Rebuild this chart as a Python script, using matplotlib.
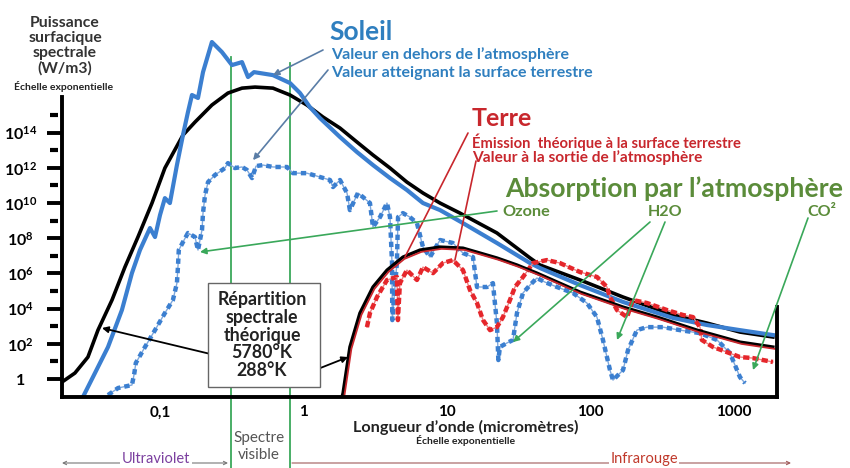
import numpy as np
import matplotlib.pyplot as plt
from matplotlib import transforms
from matplotlib.patches import Rectangle

plt.rcParams['font.family'] = ['Lato', 'DejaVu Sans']
plt.rcParams['mathtext.fontset'] = 'custom'
plt.rcParams['mathtext.rm'] = 'Lato'
plt.rcParams['mathtext.bf'] = 'Lato:bold'

# valeurs : log10(longueur d'onde en µm), log10(puissance)
# Soleil, corps noir 5780 K
sun_bb_lx = [-1.685, -1.595, -1.504, -1.434, -1.336, -1.246, -1.155, -1.057, -0.967, -0.841,
             -0.757, -0.639, -0.527, -0.429, -0.338, -0.213, -0.094, 0.024, 0.136, 0.255,
             0.373, 0.485, 0.604, 0.722, 0.834, 0.953, 1.092, 1.350, 1.581, 1.650,
             1.930, 2.230, 2.579, 2.816, 3.046, 3.276]
sun_bb_ly = [-0.17, 0.34, 1.25, 2.78, 4.49, 6.36, 8.07, 10.00, 11.99, 13.86,
             14.60, 15.57, 16.25, 16.53, 16.59, 16.53, 16.14, 15.57, 14.89, 14.26,
             13.47, 12.73, 11.99, 11.19, 10.57, 10.00, 9.43, 8.30, 6.88, 6.48,
             5.63, 4.66, 3.64, 3.18, 2.67, 2.39]

# Soleil, valeur en dehors de l'atmosphère
sun_top_lx = [-1.539, -1.455, -1.364, -1.267, -1.197, -1.141, -1.071, -1.036, -1.001, -0.967,
              -0.932, -0.883, -0.841, -0.806, -0.778, -0.736, -0.701, -0.639, -0.569, -0.499,
              -0.429, -0.387, -0.345, -0.213, -0.094, -0.024, 0.045, 0.115, 0.255, 0.373,
              0.485, 0.604, 0.722, 0.834, 0.953, 1.113, 1.350, 1.581, 1.650, 1.930,
              2.230, 2.579, 2.816, 3.046, 3.276]
sun_top_ly = [-1.02, 0.34, 1.82, 3.92, 6.02, 7.33, 8.58, 8.07, 9.32, 10.28,
              10.00, 12.16, 13.86, 15.17, 16.14, 15.97, 17.44, 19.15, 18.58, 17.84,
              18.01, 17.16, 17.44, 17.27, 16.82, 16.25, 15.45, 14.83, 13.75, 12.90,
              12.16, 11.42, 10.74, 10.00, 9.60, 8.86, 7.73, 6.59, 6.31, 5.34,
              4.38, 3.47, 3.07, 2.78, 2.50]

# Soleil, valeur atteignant la surface terrestre
sun_ground_lx = [-1.364, -1.294, -1.197, -1.18, -1.17, -1.106, -1.036, -0.967, -0.911, -0.883,
                 -0.876, -0.87, -0.841, -0.806, -0.757, -0.736, -0.708, -0.701, -0.687, -0.666,
                 -0.618, -0.548, -0.527, -0.478, -0.429, -0.394, -0.359, -0.331, -0.283, -0.213,
                 -0.115, -0.073, 0.024, 0.115, 0.185, 0.206, 0.255, 0.304, 0.324, 0.380,
                 0.415, 0.464, 0.485, 0.534, 0.583, 0.604, 0.618, 0.62, 0.652, 0.66,
                 0.694, 0.743, 0.792, 0.834, 0.883, 0.953, 1.043, 1.113, 1.183, 1.211,
                 1.281, 1.322, 1.350, 1.36, 1.371, 1.420, 1.462, 1.490, 1.532, 1.581,
                 1.629, 1.685, 1.769, 1.881, 1.978, 2.048, 2.090, 2.139, 2.160, 2.230,
                 2.265, 2.327, 2.397, 2.509, 2.627, 2.767, 2.886, 2.976, 3.046, 3.081]
sun_ground_ly = [-0.91, -0.51, -0.34, 0.34, 0.91, 1.82, 2.78, 3.75, 4.49, 5.45,
                 6.36, 7.33, 7.78, 8.30, 8.07, 7.33, 8.47, 9.43, 10.45, 11.19,
                 11.59, 11.99, 12.27, 11.99, 12.05, 11.88, 11.42, 12.10, 12.16, 12.05,
                 12.05, 11.70, 11.70, 11.48, 11.31, 10.91, 11.31, 10.57, 9.60, 10.57,
                 10.34, 10.00, 8.64, 9.20, 10.00, 9.20, 6.59, 3.35, 6.59, 9.20,
                 9.43, 9.20, 8.86, 7.50, 6.93, 7.90, 7.73, 7.16, 6.93, 5.23,
                 5.23, 5.45, 3.18, 1.08, 1.82, 2.05, 2.22, 3.75, 4.89, 5.34,
                 5.74, 5.51, 5.23, 4.89, 4.32, 3.52, 2.22, 0.51, -0.06, 0.51,
                 1.65, 2.78, 2.95, 2.95, 2.78, 2.61, 2.22, 1.48, 0.11, -0.23]

# Terre, corps noir 288 K
earth_bb_lx = [0.269, 0.276, 0.324, 0.394, 0.485, 0.583, 0.694, 0.813, 0.953, 1.113,
               1.232, 1.350, 1.490, 1.629, 1.930, 2.230, 2.467, 2.746, 3.046, 3.276]
earth_bb_ly = [-1.02, -0.80, 1.82, 3.75, 5.23, 6.19, 6.93, 7.33, 7.50, 7.44,
               7.16, 6.88, 6.48, 6.02, 4.94, 4.09, 3.52, 2.78, 2.10, 1.82]

# Terre, valeur à la sortie de l'atmosphère
earth_out_lx = [0.443, 0.464, 0.513, 0.583, 0.652, 0.659, 0.673, 0.722, 0.792, 0.834,
                0.904, 0.973, 1.043, 1.113, 1.162, 1.211, 1.253, 1.302, 1.350, 1.392,
                1.441, 1.476, 1.532, 1.602, 1.699, 1.790, 1.930, 2.048, 2.118, 2.139,
                2.188, 2.258, 2.299, 2.397, 2.537, 2.648, 2.718, 2.767, 2.78, 2.858,
                2.955, 3.046, 3.137, 3.276]
earth_out_ly = [2.95, 3.75, 4.66, 5.63, 5.80, 3.35, 5.45, 6.19, 5.63, 6.36,
                6.02, 6.59, 6.76, 6.19, 5.06, 4.32, 3.35, 2.78, 2.95, 3.52,
                4.49, 5.23, 5.80, 6.59, 6.76, 6.59, 6.08, 5.80, 5.23, 4.66,
                3.92, 3.52, 4.49, 4.32, 3.92, 3.64, 3.52, 2.95, 2.22, 1.82,
                1.53, 1.25, 1.19, 0.97]

visible = [0.31, 0.80]
xtick_vals = [0.1, 1, 10, 100, 1000]
xtick_labels = ['0,1', '1', '10', '100', '1000']
ytick_exp = [0, 2, 4, 6, 8, 10, 12, 14]
yminor_exp = [1, 3, 5, 7, 9, 11, 13, 15]

BLUE = '#3b7fd0'
BLUE_TXT = '#2f7fbf'
RED = '#c8272d'
RED_DASH = '#e5262b'
GREEN_TXT = '#5b8c3a'
GREEN_LN = '#3aa85a'
GREY_BLUE = '#5a7da6'

W, H = 850, 468
fig = plt.figure(figsize=(W / 100, H / 100), dpi=100)
ax = fig.add_axes([62 / W, 71 / H, 738 / W, 387 / H])
ax.set_xscale('log')
ax.set_yscale('log')
ax.set_xlim(10 ** -1.685, 10 ** 3.465)
ax.set_ylim(10 ** -1.02, 10 ** 20.97)


def P(a):
    return 10.0 ** np.array(a)


# bandes du visible
ax.axvline(visible[0], ymin=-0.19, ymax=0.878, color=GREEN_LN, lw=1.3, clip_on=False, zorder=1)
ax.axvline(visible[1], ymin=-0.19, ymax=0.863, color=GREEN_LN, lw=1.3, clip_on=False, zorder=1)

# courbes
ax.plot(P(sun_bb_lx), P(sun_bb_ly), color='black', lw=2.6, zorder=3)
ax.plot(P(sun_top_lx), P(sun_top_ly), color=BLUE, lw=3.0, zorder=4)
ax.plot(P(sun_ground_lx), P(sun_ground_ly), color='#7fa8dc', lw=1.0, zorder=4)
ax.plot(P(sun_ground_lx), P(sun_ground_ly), color=BLUE, lw=3.2,
        ls=(0, (1.2, 0.9)), dash_capstyle='butt', zorder=4)
ax.plot(P(earth_out_lx), P(earth_out_ly), color='#f08080', lw=1.0, zorder=5)
ax.plot(P(earth_out_lx), P(earth_out_ly), color=RED_DASH, lw=3.2,
        ls=(0, (1.4, 0.7)), dash_capstyle='butt', zorder=5)
ax.plot(P(earth_bb_lx), P(earth_bb_ly), color='black', lw=2.4, zorder=6)
red_off = transforms.offset_copy(ax.transData, fig=fig, x=1.5, y=-1.8, units='dots')
ax.plot(P(earth_bb_lx), P(earth_bb_ly), color=RED, lw=1.3, zorder=6, transform=red_off)

# axes
ax.spines['top'].set_visible(False)
ax.spines['left'].set_bounds(10 ** -1.02, 1e16)
ax.spines['bottom'].set_bounds(10 ** -1.685, 10 ** 3.305)
ax.spines['right'].set_position(('data', 10 ** 3.305))
ax.spines['right'].set_bounds(10 ** -1.02, 10 ** 4.09)
for s in ['left', 'bottom', 'right']:
    ax.spines[s].set_linewidth(2.8)
    ax.spines[s].set_zorder(7)

ax.set_xticks(xtick_vals)
ax.set_xticklabels(xtick_labels, fontweight='bold', fontsize=11)
ax.set_xticks([], minor=True)
ax.set_yticks([10.0 ** e for e in ytick_exp])
ax.set_yticklabels(['1' if e == 0 else r'$\mathbf{10^{%d}}$' % e for e in ytick_exp],
                   fontweight='bold', fontsize=11.5)
ax.set_yticks([], minor=True)
ax.tick_params(axis='x', length=0, pad=6)
ax.tick_params(axis='y', length=11, width=2.8, pad=19)
for t in ax.get_yticklabels():
    t.set_horizontalalignment('center')

blend = transforms.blended_transform_factory(ax.transAxes, ax.transData)
ax.plot([-0.0105] * len(yminor_exp), [10.0 ** e for e in yminor_exp], ls='none',
        marker='_', ms=6, mew=3, color='black', transform=blend, clip_on=False)


def txt(x, y, s, **kw):
    kw.setdefault('va', 'center')
    return fig.text(x / W, 1 - y / H, s, **kw)


def arrow(xy, start, color, lw=1.2, style='-|>'):
    ax.annotate('', xy=xy, xytext=(start[0], H - start[1]), textcoords='figure pixels',
                arrowprops=dict(arrowstyle=style, color=color, lw=lw, mutation_scale=9,
                                shrinkA=0, shrinkB=0), zorder=8)


# titre de l'axe y
txt(65, 46, 'Puissance\nsurfacique\nspectrale\n(W/m3)', ha='center', fontweight='bold',
    fontsize=11.3, linespacing=1.08, color='#333333')
txt(64, 86, 'Échelle exponentielle', ha='center', fontweight='bold', fontsize=7.5, color='#222222')

# titre de l'axe x
txt(466, 427, 'Longueur d’onde (micromètres)', ha='center', fontweight='bold', fontsize=11.7,
    color='#222222')
txt(466, 441, 'Échelle exponentielle', ha='center', fontweight='bold', fontsize=7.5, color='#222222')

# Soleil
txt(329, 32, 'Soleil', ha='left', fontweight='bold', fontsize=19, color=BLUE_TXT)
txt(331, 55, 'Valeur en dehors de l’atmosphère', ha='left', fontweight='bold', fontsize=11.5,
    color=BLUE_TXT)
txt(331, 73, 'Valeur atteignant la surface terrestre', ha='left', fontweight='bold', fontsize=11.5,
    color=BLUE_TXT)
arrow((10 ** -0.213, 10 ** 17.27), (323, 50), GREY_BLUE)
arrow((10 ** -0.352, 10 ** 12.44), (328, 70), GREY_BLUE)

# Terre
txt(472, 118, 'Terre', ha='left', fontweight='bold', fontsize=18, color=RED)
txt(472, 142, 'Émission  théorique à la surface terrestre', ha='left', fontweight='bold',
    fontsize=10.6, color=RED)
txt(472, 158, 'Valeur à la sortie de l’atmosphère', ha='left', fontweight='bold',
    fontsize=11.2, color=RED)
arrow((10 ** 0.708, 10 ** 6.93), (468, 133), RED, style='-')
arrow((10 ** 1.057, 10 ** 6.76), (476, 161), RED, style='-')

# absorption
txt(505, 189, 'Absorption par l’atmosphère', ha='left', fontweight='bold', fontsize=19.2,
    color=GREEN_TXT)
txt(502, 212, 'Ozone', ha='left', fontweight='bold', fontsize=11.7, color=GREEN_TXT)
txt(665, 212, 'H2O', ha='center', fontweight='bold', fontsize=11.5, color=GREEN_TXT)
txt(822, 212, 'CO²', ha='center', fontweight='bold', fontsize=11.5, color=GREEN_TXT)
arrow((10 ** -0.722, 10 ** 7.22), (497, 211), GREEN_LN)
arrow((10 ** 1.462, 10 ** 2.10), (650, 222), GREEN_LN)
arrow((10 ** 2.188, 10 ** 2.22), (665, 222), GREEN_LN)
arrow((10 ** 3.137, 10 ** 0.51), (808, 218), GREEN_LN)

# cadre répartition spectrale
fig.patches.append(Rectangle((208 / W, 1 - 387 / H), 112 / W, 104 / H, transform=fig.transFigure,
                             facecolor='white', edgecolor='#666666', lw=1.0, zorder=2))
txt(262, 335, 'Répartition\nspectrale\nthéorique\n5780°K\n288°K', ha='center', fontweight='bold',
    fontsize=12.8, linespacing=1.06, color='#222222', zorder=3)
arrow((10 ** -1.406, 10 ** 2.90), (223, 357), 'black', lw=1.3)
arrow((10 ** 0.311, 10 ** 1.25), (290, 380), 'black', lw=1.3)

# bas de la figure
txt(259, 438, 'Spectre', ha='center', fontsize=11, color='#555555')
txt(259, 455, 'visible', ha='center', fontsize=11, color='#555555')
ax.annotate('', xy=(228, H - 463), xytext=(62, H - 463), xycoords='figure pixels',
            textcoords='figure pixels',
            arrowprops=dict(arrowstyle='<->', color='#777777', lw=0.8, mutation_scale=6,
                            shrinkA=0, shrinkB=0))
txt(156, 459, 'Ultraviolet', ha='center', fontsize=10.5, color='#7b3f9f',
    bbox=dict(fc='white', ec='none', pad=1))
ax.annotate('', xy=(791, H - 463), xytext=(292, H - 463), xycoords='figure pixels',
            textcoords='figure pixels',
            arrowprops=dict(arrowstyle='->', color='#a05a5a', lw=0.8, mutation_scale=6,
                            shrinkA=0, shrinkB=0))
txt(644, 459, 'Infrarouge', ha='center', fontsize=10.5, color='#c0392b',
    bbox=dict(fc='white', ec='none', pad=1))

fig.savefig('out.png', dpi=100)
